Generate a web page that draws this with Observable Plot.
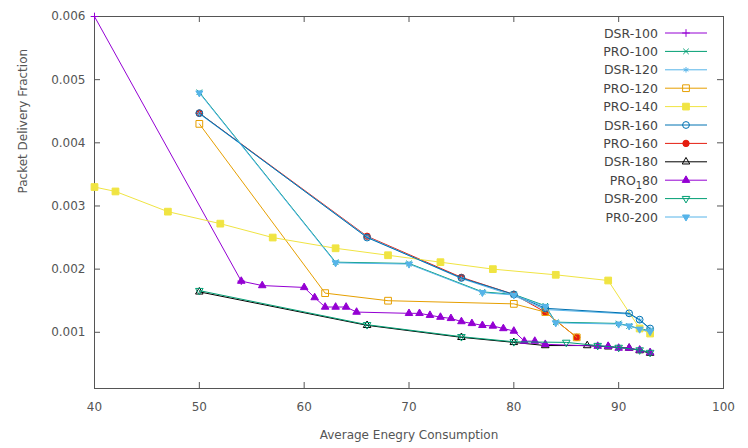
<!DOCTYPE html>
<html><head><meta charset="utf-8">
<script src="https://cdn.jsdelivr.net/npm/d3@7"></script>
<script src="https://cdn.jsdelivr.net/npm/@observablehq/plot@0.6"></script>
<style>
body{margin:0;background:#fff;}
#wrap{position:relative;width:748px;height:448px;font-family:"DejaVu Sans",sans-serif;}
#wrap svg{position:absolute;left:0;top:0;}
</style></head><body><div id="wrap"></div>
<script>
// ---- tick labels / titles ----
const xTicks = [40, 50, 60, 70, 80, 90, 100];
const yTicks = [0.001, 0.002, 0.003, 0.004, 0.005, 0.006];
const xTitle = "Average Enegry Consumption";
const yTitle = "Packet Delivery Fraction";

// ---- series (x = energy, y = delivery fraction) ----
const seriesNames = ["DSR-100","PRO-100","DSR-120","PRO-120","PRO-140","DSR-160","PRO-160","DSR-180","PRO_180","DSR-200","PR0-200"];
const DSR100 = [[40,0.0060],[54,0.00181]];
const PRO100 = [[50,0.0048],[63,0.00211],[70,0.00209],[77,0.00164],[80,0.0016],[83,0.00142],[84,0.00116],[90,0.00114],[91,0.0011],[92,0.00106],[93,0.00102]];
const DSR120 = [[50,0.00446],[66,0.00251],[75,0.00185],[80,0.00158],[83,0.00136],[91,0.00129],[92,0.00119],[93,0.00105]];
const PRO120 = [[50,0.0043],[62,0.00162],[68,0.0015],[80,0.00145],[83,0.00132],[86,0.00092]];
const PRO140 = [[40,0.0033],[42,0.00323],[47,0.00291],[52,0.00272],[57,0.0025],[63,0.00233],[68,0.00222],[73,0.00211],[78,0.0020],[84,0.00191],[89,0.00182],[92,0.00106],[93,0.00098]];
const DSR160 = [[50,0.00447],[66,0.0025],[75,0.00186],[80,0.0016],[83,0.00138],[91,0.0013],[92,0.0012],[93,0.00106]];
const PRO160 = [[50,0.00447],[66,0.00252],[75,0.00187],[80,0.0016],[83,0.00132],[86,0.00092]];
const DSR180 = [[50,0.00164],[66,0.00111],[75,0.00092],[80,0.00084],[83,0.00079],[87,0.00079],[89,0.00077],[91,0.00075],[92,0.00071],[93,0.00067]];
const PRO180 = [[54,0.00181],[56,0.00174],[60,0.00171],[61,0.00155],[62,0.0014],[63,0.0014],[64,0.0014],[65,0.00132],[70,0.0013],[71,0.0013],[72,0.00127],[73,0.00124],[74,0.00122],[75,0.00117],[76,0.00114],[77,0.00111],[78,0.0011],[79,0.00106],[80,0.00102],[81,0.00086],[82,0.00086],[83,0.00081],[88,0.00078],[89,0.00078],[90,0.00075],[91,0.00075],[92,0.00072],[93,0.00068]];
const DSR200 = [[50,0.00166],[66,0.00112],[75,0.00093],[80,0.00085],[85,0.00084],[88,0.00079],[90,0.00076],[92,0.00072],[93,0.00068]];
const PR0200 = [[50,0.00479],[63,0.0021],[70,0.00208],[77,0.00163],[80,0.00159],[83,0.00141],[84,0.00115],[90,0.00113],[91,0.0011],[92,0.00105],[93,0.00101]];
const seriesData = [DSR100,PRO100,DSR120,PRO120,PRO140,DSR160,PRO160,DSR180,PRO180,DSR200,PR0200];

// ---- styles ----
const seriesColors = ["#9400d3","#009e73","#56b4e9","#e69f00","#f0e442","#0072b2","#e51e10","#000000","#9400d3","#009e73","#56b4e9"];
const seriesSymbols = ["plus","times","asterisk","square","square","circle","circle","triangle","triangle","invTriangle","invTriangle"];
const seriesFilled = [false,false,false,false,true,false,true,false,true,false,true];
const seriesR = [2.6,2.6,2.6,3.8,3.8,3.4,3.2,2.8,2.8,2.8,2.6];
// drawing order (overlapping series stacked so that the blue/red upper curve blends as in the reference)
const drawOrder = [6,0,1,2,3,4,5,7,8,9,10];

const invTriangle = {draw(context, size){
  const y = -Math.sqrt(size / (3 * Math.sqrt(3))), s3 = Math.sqrt(3);
  context.moveTo(0, -y * 2); context.lineTo(-s3 * y, y); context.lineTo(s3 * y, y); context.closePath();
}};
const plotSymbol = s => s === "invTriangle" ? invTriangle : s;
const d3Symbol = {plus:d3.symbolPlus,times:d3.symbolTimes,asterisk:d3.symbolAsterisk,square:d3.symbolSquare,circle:d3.symbolCircle,triangle:d3.symbolTriangle,invTriangle:invTriangle};

const W = 748, H = 448, mL = 94, mR = 25, mT = 16, mB = 60;
const innerW = W - mL - mR, innerH = H - mT - mB;
const ink = "#555";

const marks = [
  Plot.frame({stroke: ink}),
  Plot.ruleX(xTicks.slice(1, -1), {x: d => d, insetTop: innerH - 6, stroke: ink}),
  Plot.ruleX(xTicks.slice(1, -1), {x: d => d, insetBottom: innerH - 6, stroke: ink}),
  Plot.ruleY(yTicks.slice(0, -1), {y: d => d, insetRight: innerW - 6, stroke: ink}),
  Plot.ruleY(yTicks.slice(0, -1), {y: d => d, insetLeft: innerW - 6, stroke: ink}),
  Plot.axisX(xTicks, {tickSize: 0, tickPadding: 14, label: null, fill: ink}),
  Plot.axisY(yTicks, {tickSize: 0, tickPadding: 9, tickFormat: d3.format(".3f"), label: null, fill: ink}),
  Plot.text([xTitle], {frameAnchor: "bottom", dy: 50, text: d => d, fill: ink, fontSize: 12}),
  Plot.text([yTitle], {frameAnchor: "left", dx: -71, dy: -9, rotate: -90, text: d => d, fill: ink, fontSize: 12})
];
drawOrder.forEach(i => {
  const data = seriesData[i];
  marks.push(Plot.line(data, {x: d => d[0], y: d => d[1], stroke: seriesColors[i], strokeWidth: 1}));
  marks.push(Plot.dot(data, {x: d => d[0], y: d => d[1], symbol: plotSymbol(seriesSymbols[i]), r: seriesR[i],
    fill: seriesFilled[i] ? seriesColors[i] : "none", stroke: seriesColors[i], strokeWidth: 1}));
});

const chart = Plot.plot({
  width: W, height: H, marginLeft: mL, marginRight: mR, marginTop: mT, marginBottom: mB,
  style: {fontFamily: "DejaVu Sans, sans-serif", fontSize: "12px", background: "#fff", overflow: "visible"},
  x: {domain: [40, 100]},
  y: {domain: [0.00011, 0.006]},
  marks
});
document.getElementById("wrap").appendChild(chart);

// ---- legend (overlay, top-right inside the frame) ----
const leg = d3.select("#wrap").append("svg").attr("width", W).attr("height", H)
  .style("font-family", "DejaVu Sans, sans-serif").style("font-size", "12.5px");
seriesNames.forEach((name, i) => {
  const cy = 33 + i * 18.4;
  const t = leg.append("text").attr("x", 658).attr("y", cy + 4.5).attr("text-anchor", "end").attr("fill", "#444");
  if (name.includes("_")) {
    const [a, b] = name.split("_");
    t.append("tspan").text(a);
    t.append("tspan").attr("dy", "4").attr("font-size", "10px").text(b[0]);
    t.append("tspan").attr("dy", "-4").text(b.slice(1));
  } else t.text(name);
  leg.append("line").attr("x1", 665).attr("x2", 707).attr("y1", cy).attr("y2", cy).attr("stroke", seriesColors[i]);
  const r = seriesR[i];
  leg.append("path").attr("transform", `translate(686,${cy})`)
    .attr("d", d3.symbol(d3Symbol[seriesSymbols[i]], Math.PI * r * r)())
    .attr("fill", seriesFilled[i] ? seriesColors[i] : "none").attr("stroke", seriesColors[i]);
});
</script></body></html>
